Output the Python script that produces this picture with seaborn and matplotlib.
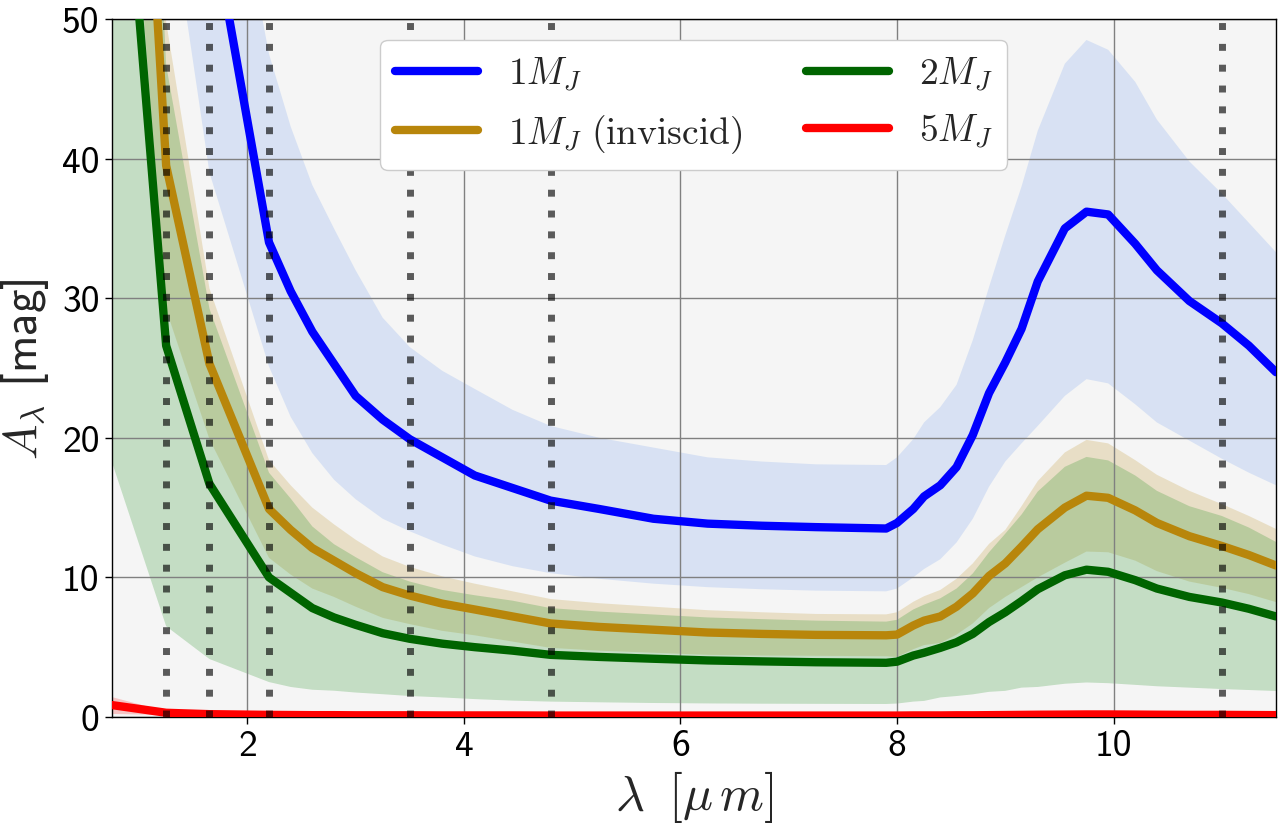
import matplotlib
matplotlib.use("Agg")
import matplotlib.pyplot as plt
from matplotlib.ticker import FuncFormatter, MultipleLocator
import numpy as np
import pandas as pd
import seaborn as sns

# wavelength grid [micron]
wavelength = [0.75, 1.25, 1.65, 2.2, 2.4, 2.6, 2.8, 3.0, 3.25, 3.5,
              3.8, 4.1, 4.45, 4.8, 5.25, 5.75, 6.25, 6.75, 7.25, 7.9,
              8.0, 8.15, 8.25, 8.4, 8.55, 8.7, 8.85, 9.0, 9.15, 9.3,
              9.55, 9.75, 9.95, 10.2, 10.4, 10.7, 11.0, 11.25, 11.5]

# 1 M_J (band is asymmetric -> lower / upper edges)
a_1mj = [150, 90, 58, 34, 30.5, 27.6, 25.3, 23.0, 21.3, 19.9,
         18.6, 17.3, 16.4, 15.5, 14.9, 14.2, 13.85, 13.7, 13.6, 13.5,
         13.9, 14.9, 15.8, 16.6, 17.9, 20.2, 23.2, 25.4, 27.8, 31.2,
         35.0, 36.2, 36.0, 33.9, 32.0, 29.8, 28.2, 26.6, 24.7]
a_1mj_lo = [90, 60, 39, 25.1, 21.5, 18.9, 17.0, 15.6, 14.2, 13.3,
            12.35, 11.5, 10.8, 10.3, 9.9, 9.55, 9.3, 9.15, 9.05, 9.0,
            9.2, 10.0, 10.6, 11.3, 12.5, 14.2, 16.5, 18.3, 19.6, 20.85,
            23.0, 24.2, 23.9, 22.4, 21.1, 19.8, 18.5, 17.5, 16.6]
a_1mj_hi = [220, 120, 70, 47.5, 42.3, 38.1, 35.0, 32.0, 28.6, 26.5,
            24.8, 23.5, 22.0, 20.85, 20.0, 19.3, 18.6, 18.3, 18.1, 18.05,
            18.6, 19.9, 21.1, 22.2, 23.8, 27.0, 30.8, 34.5, 38.0, 42.0,
            46.8, 48.5, 47.8, 45.5, 42.8, 39.8, 37.5, 35.4, 33.3]

# 1 M_J inviscid
a_inv = [105, 39.5, 25.3, 14.9, 13.4, 12.1, 11.2, 10.3, 9.3, 8.7,
         8.12, 7.7, 7.2, 6.7, 6.45, 6.25, 6.05, 5.95, 5.88, 5.85,
         5.9, 6.55, 6.9, 7.2, 7.9, 8.85, 10.1, 11.0, 12.2, 13.45,
         15.0, 15.85, 15.7, 14.8, 13.9, 12.95, 12.25, 11.6, 10.85]
a_inv_err = [25, 10.3, 5.4, 3.5, 3.2, 2.9, 2.6, 2.4, 2.2, 2.05,
             1.95, 1.85, 1.8, 1.75, 1.7, 1.65, 1.6, 1.55, 1.5, 1.5,
             1.6, 1.7, 1.75, 1.9, 2.0, 2.15, 2.3, 2.4, 2.9, 3.45,
             3.95, 4.0, 3.9, 3.6, 3.45, 3.25, 3.0, 2.8, 2.62]

# 2 M_J
a_2mj = [74, 26.6, 16.7, 10.0, 8.9, 7.8, 7.13, 6.6, 6.0, 5.6,
         5.25, 5.0, 4.75, 4.45, 4.3, 4.17, 4.05, 3.98, 3.92, 3.88,
         3.96, 4.4, 4.6, 4.95, 5.35, 5.95, 6.8, 7.5, 8.3, 9.15,
         10.15, 10.55, 10.4, 9.8, 9.2, 8.6, 8.2, 7.75, 7.2]
a_2mj_err = [55.75, 20.1, 12.55, 7.5, 6.75, 5.85, 5.25, 4.85, 4.37, 4.1,
             3.85, 3.72, 3.58, 3.35, 3.25, 3.17, 3.08, 3.03, 2.98, 2.95,
             3.0, 3.3, 3.45, 3.55, 3.85, 4.33, 5.0, 5.63, 6.2, 7.0,
             7.77, 8.08, 7.98, 7.5, 7.0, 6.5, 6.2, 5.82, 5.34]

# 5 M_J
a_5mj = [0.85, 0.3, 0.2, 0.15, 0.14, 0.13, 0.13, 0.12, 0.12, 0.12,
         0.11, 0.11, 0.11, 0.1, 0.1, 0.1, 0.1, 0.1, 0.1, 0.1,
         0.1, 0.11, 0.11, 0.11, 0.12, 0.12, 0.13, 0.14, 0.15, 0.16,
         0.17, 0.18, 0.18, 0.17, 0.16, 0.15, 0.15, 0.14, 0.13]
a_5mj_err = [0.6, 0.12, 0.07, 0.05, 0.05, 0.04, 0.04, 0.04, 0.04, 0.04,
             0.04, 0.04, 0.04, 0.03, 0.03, 0.03, 0.03, 0.03, 0.03, 0.03,
             0.03, 0.03, 0.03, 0.03, 0.04, 0.04, 0.04, 0.05, 0.05, 0.05,
             0.06, 0.06, 0.06, 0.06, 0.05, 0.05, 0.05, 0.05, 0.05]

# photometric bands (J, H, K, L, M, N)
band_wl = [1.25, 1.65, 2.2, 3.5, 4.8, 11.0]

labels = [r"$1M_J$", r"$1M_J\ \mathrm{(inviscid)}$", r"$2M_J$", r"$5M_J$"]

sns.set_theme(style="whitegrid")
plt.rcParams.update({
    "mathtext.fontset": "cm",
    "axes.facecolor": "whitesmoke",
    "axes.edgecolor": "black",
    "axes.linewidth": 1.0,
    "grid.color": "gray",
    "grid.linewidth": 1.0,
    "xtick.bottom": True,
    "ytick.left": True,
    "xtick.color": "black",
    "ytick.color": "black",
})
plt.rcParams["font.family"] = ["cmss10", "DejaVu Sans"]

wl = np.array(wavelength)
df = pd.DataFrame({
    "wl": wl,
    "a_1mj": a_1mj, "a_inv": a_inv, "a_2mj": a_2mj, "a_5mj": a_5mj,
})

fig, ax = plt.subplots(figsize=(12.86, 8.28), dpi=100)
fig.subplots_adjust(left=0.0871, right=0.9922, top=0.9758, bottom=0.1329)

series = [
    ("a_1mj", "blue", "cornflowerblue", np.array(a_1mj_lo), np.array(a_1mj_hi)),
    ("a_inv", "darkgoldenrod", "darkgoldenrod",
     np.array(a_inv) - np.array(a_inv_err), np.array(a_inv) + np.array(a_inv_err)),
    ("a_2mj", "darkgreen", "green",
     np.array(a_2mj) - np.array(a_2mj_err), np.array(a_2mj) + np.array(a_2mj_err)),
    ("a_5mj", "red", "red",
     np.array(a_5mj) - np.array(a_5mj_err), np.array(a_5mj) + np.array(a_5mj_err)),
]

for (col, lc, fc, lo, hi), lab in zip(series, labels):
    ax.fill_between(wl, lo, hi, color=fc, alpha=0.2, lw=0, zorder=0.3)
    sns.lineplot(data=df, x="wl", y=col, ax=ax, color=lc, lw=6,
                 label=lab, sort=False, estimator=None, zorder=3)

for b in band_wl:
    ax.axvline(b, color="black", alpha=0.63, lw=5, ls=(0, (1, 2)), zorder=5)

ax.set_xlim(0.75, 11.5)
ax.set_ylim(0, 50)
ax.set_axisbelow(True)
ax.xaxis.set_major_locator(MultipleLocator(2))
ax.yaxis.set_major_locator(MultipleLocator(10))
fmt = FuncFormatter(lambda v, p: "%d" % int(round(v)))
ax.xaxis.set_major_formatter(fmt)
ax.yaxis.set_major_formatter(fmt)
ax.tick_params(axis="both", labelsize=27, length=5, width=1, direction="out",
               pad=4, labelfontfamily="cmss10")

ax.set_xlabel(r"$\lambda\;\;[\mu\,m]$", fontsize=36, labelpad=4)
ax.set_ylabel(r"$A_\lambda$ [mag]", fontsize=34, labelpad=8)

for sp in ax.spines.values():
    sp.set_visible(True)
    sp.set_color("black")

ax.legend(loc="upper center", ncol=2, fontsize=27, frameon=True,
          framealpha=1.0, facecolor="white", edgecolor="#cccccc",
          handlelength=2.2, columnspacing=1.7, labelspacing=0.5,
          borderaxespad=0.55)

fig.savefig("out.png", dpi=100)
